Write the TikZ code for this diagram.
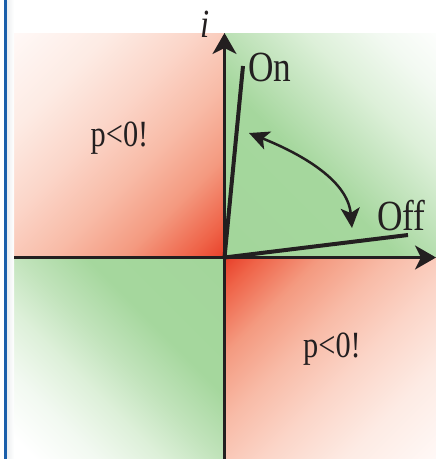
\documentclass[tikz,border=0pt]{standalone}
\usepackage{fontspec}
\setmainfont[FakeStretch=0.82]{Liberation Serif}
\usetikzlibrary{arrows.meta}
\definecolor{inkc}{HTML}{231F20}
\definecolor{blueline}{HTML}{1B5FAA}
\definecolor{grayedge}{HTML}{EEF0F2}
\definecolor{rq0}{HTML}{E8402A}
\definecolor{rq1}{HTML}{EF6449}
\definecolor{rq2}{HTML}{F49A80}
\definecolor{rq3}{HTML}{F8BBA7}
\definecolor{rq4}{HTML}{FBD5C8}
\definecolor{rq5}{HTML}{FDEBE4}
\definecolor{rq6}{HTML}{FFF8F6}
\definecolor{gq0}{HTML}{A3D69B}
\definecolor{gq1}{HTML}{A5D79D}
\definecolor{gq2}{HTML}{C1E3BB}
\definecolor{gq3}{HTML}{DDF0D9}
\definecolor{gq4}{HTML}{F2F9F1}
\pgfdeclarehorizontalshading{redq}{100bp}{color(0bp)=(rq0); color(14.64bp)=(rq0); color(20.5bp)=(rq1); color(31.1bp)=(rq2); color(42.9bp)=(rq3); color(55.8bp)=(rq4); color(69.9bp)=(rq5); color(85.2bp)=(rq6); color(100bp)=(white)}
\pgfdeclarehorizontalshading{greenq}{100bp}{color(0bp)=(gq0); color(14.64bp)=(gq0); color(42.9bp)=(gq1); color(53.5bp)=(gq2); color(64.2bp)=(gq3); color(75.9bp)=(gq4); color(87.5bp)=(white); color(100bp)=(white)}
\pgfdeclarehorizontalshading{greenbl}{100bp}{color(0bp)=(gq0); color(14.64bp)=(gq0); color(38.2bp)=(gq1); color(49.9bp)=(gq2); color(60bp)=(gq3); color(71bp)=(gq4); color(82bp)=(white); color(100bp)=(white)}
\tikzset{
  axisline/.style={draw=inkc, line width=3pt},
  rayline/.style={draw=inkc, line width=4pt},
  arcline/.style={draw=inkc, line width=2.5pt},
  lbl/.style={inner sep=0pt, text=inkc},
  bigtip/.tip={Stealth[length=21pt,width=24pt,inset=6pt]},
  smalltip/.tip={Stealth[length=20pt,width=19pt,inset=5pt]}
}
\begin{document}
\begin{tikzpicture}[x=1pt,y=-1pt]
\useasboundingbox (0,0) rectangle (436,459);
\fill[white] (0,0) rectangle (436,459);
% quadrant gradients
\shade[shading=redq, shading angle=135] (14,33) rectangle (224.5,257.5);
\shade[shading=greenq, shading angle=45] (224.5,33) rectangle (436,257.5);
\shade[shading=greenbl, shading angle=225] (14,257.5) rectangle (224.5,459);
\shade[shading=redq, shading angle=315] (224.5,257.5) rectangle (436,459);
% left frame
\fill[blueline] (4,0) rectangle (7.3,459);
\shade[left color=grayedge, right color=white] (7.3,0) rectangle (14,459);
% coordinates
\coordinate (O) at (224.5,257.5);
\coordinate (xl) at (14,257.5);
\coordinate (xr) at (436,257.5);
\coordinate (yb) at (224.5,459);
\coordinate (yt) at (224.5,33);
\coordinate (onE) at (243,66);
\coordinate (offE) at (408,235);
\coordinate (a1) at (249,133);
\coordinate (a2) at (352,228);
% rays
\draw[rayline] (O) -- (onE);
\draw[rayline] (O) -- (offE);
% axes
\draw[axisline, -bigtip] (xl) -- (xr);
\draw[axisline, -bigtip] (yb) -- (yt);
% curved arrow
\draw[arcline, smalltip-smalltip] (a1) .. controls (295.4,151.6) and (347.6,178.2) .. (a2);
% labels
\node[lbl, anchor=base west, font=\fontsize{43pt}{45pt}\selectfont] (on) at (248,81) {On};
\node[lbl, anchor=base west, font=\fontsize{43pt}{45pt}\selectfont] (off) at (377,230) {Off};
\node[lbl, anchor=base, font=\fontsize{37pt}{39pt}\selectfont] (p1) at (119.5,146) {p<0!};
\node[lbl, anchor=base, font=\fontsize{37pt}{39pt}\selectfont] (p2) at (332,357) {p<0!};
\node[lbl, anchor=base, font=\fontsize{40pt}{42pt}\selectfont\itshape] (ilabel) at (205,37) {i};
\end{tikzpicture}
\end{document}
